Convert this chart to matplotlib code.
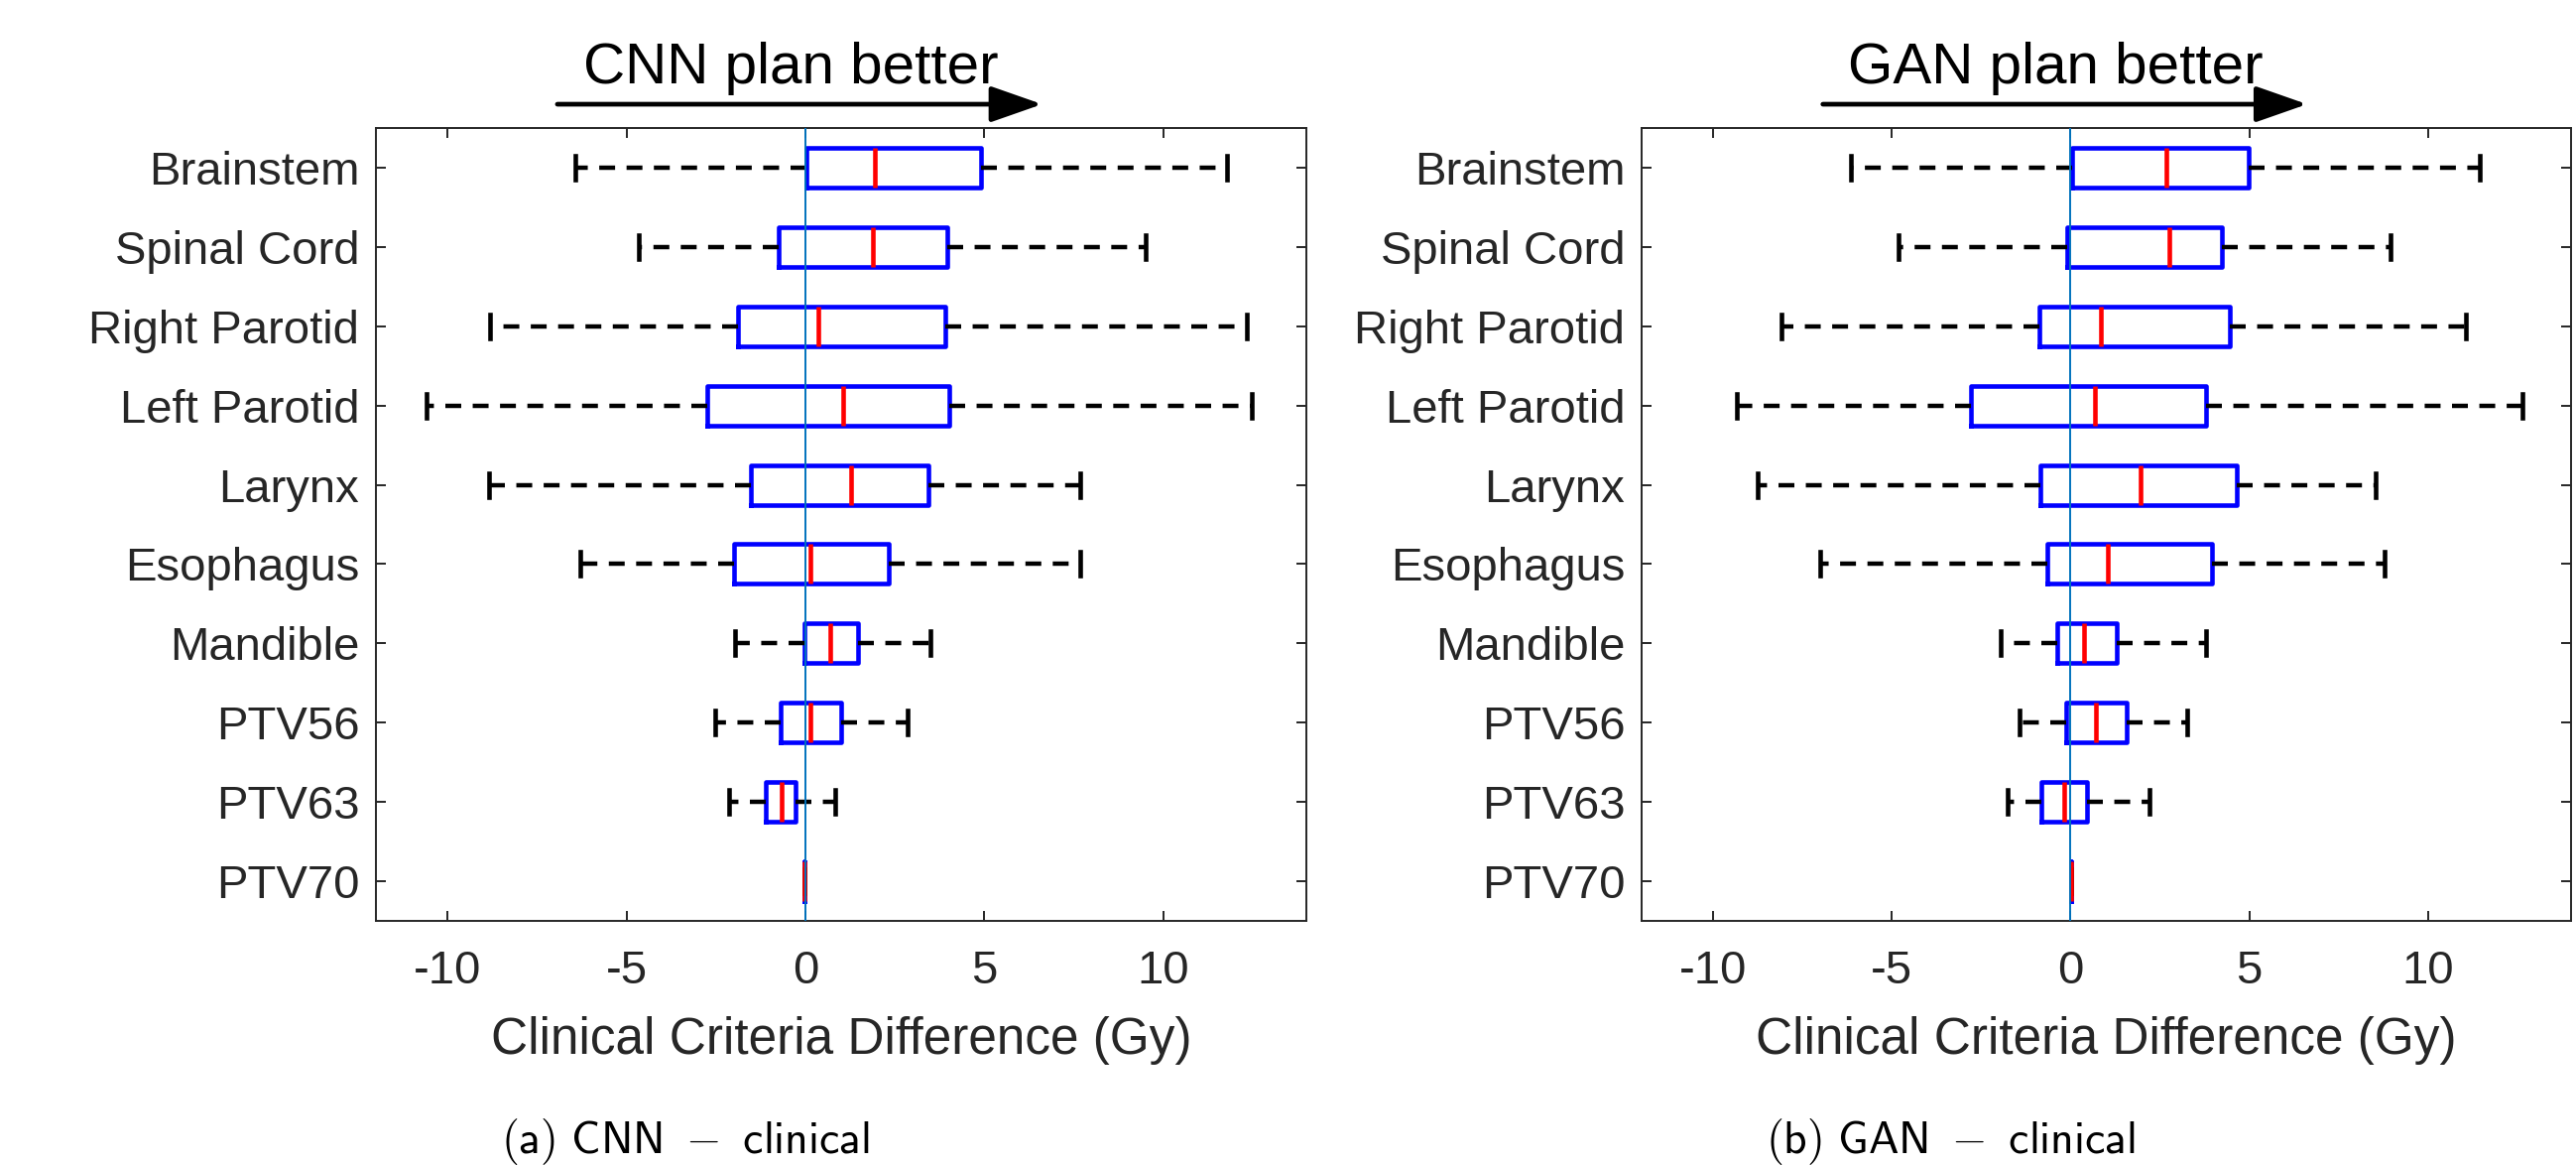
import matplotlib
matplotlib.use("Agg")
import matplotlib.pyplot as plt

plt.rcParams['font.family'] = ['Liberation Sans', 'DejaVu Sans']
plt.rcParams['mathtext.fontset'] = 'cm'
plt.rcParams['axes.unicode_minus'] = False

organs = ['Brainstem', 'Spinal Cord', 'Right Parotid', 'Left Parotid', 'Larynx',
          'Esophagus', 'Mandible', 'PTV56', 'PTV63', 'PTV70']

# CNN - clinical
cnn_lo = [-6.43, -4.65, -8.82, -10.58, -8.85, -6.29, -1.96, -2.52, -2.14, -0.02]
cnn_q1 = [0.03, -0.74, -1.89, -2.73, -1.53, -2.00, -0.03, -0.69, -1.10, -0.02]
cnn_med = [1.94, 1.89, 0.36, 1.06, 1.29, 0.15, 0.69, 0.15, -0.67, -0.02]
cnn_q3 = [4.90, 3.96, 3.91, 4.03, 3.45, 2.33, 1.46, 1.01, -0.27, -0.02]
cnn_hi = [11.77, 9.52, 12.35, 12.47, 7.67, 7.67, 3.50, 2.85, 0.82, -0.02]

# GAN - clinical
gan_lo = [-6.15, -4.80, -8.09, -9.35, -8.76, -7.01, -1.96, -1.42, -1.77, 0.02]
gan_q1 = [0.05, -0.10, -0.87, -2.79, -0.84, -0.65, -0.37, -0.12, -0.82, 0.02]
gan_med = [2.68, 2.76, 0.85, 0.69, 1.96, 1.05, 0.37, 0.72, -0.17, 0.02]
gan_q3 = [4.97, 4.23, 4.46, 3.80, 4.65, 3.96, 1.29, 1.56, 0.47, 0.02]
gan_hi = [11.45, 8.96, 11.07, 12.64, 8.53, 8.78, 3.80, 3.26, 2.22, 0.02]

xticks = [-10, -5, 0, 5, 10]
xticklabels = ['-10', '-5', '0', '5', '10']

W, H = 2597, 1174
fig = plt.figure(figsize=(W / 100, H / 100), dpi=100)

axc = '#262626'


def draw_panel(rect, lo, q1, med, q3, hi, top_text, caption, cap_x):
    ax = fig.add_axes(rect)
    stats = []
    for i in range(len(organs)):
        stats.append(dict(label=organs[i], whislo=lo[i], q1=q1[i], med=med[i],
                          q3=q3[i], whishi=hi[i], fliers=[]))
    positions = list(range(len(organs), 0, -1))
    ax.bxp(stats, positions=positions, vert=False, widths=0.5, capwidths=0.3,
           showfliers=False,
           boxprops=dict(color='#0000ff', linewidth=3.3),
           medianprops=dict(color='#ff0000', linewidth=3.3),
           whiskerprops=dict(color='k', linewidth=3.2, linestyle=(0, (3.6, 2.6))),
           capprops=dict(color='k', linewidth=3.3))
    ax.axvline(0, color='#0072BD', linewidth=1.4, zorder=5)

    ax.set_xlim(-12, 14)
    ax.set_ylim(0.5, 10.5)
    ax.set_xticks(xticks)
    ax.set_xticklabels(xticklabels)
    ax.set_yticks(positions)
    ax.set_yticklabels(organs)
    ax.tick_params(axis='both', direction='in', top=True, right=True,
                   length=7, width=1.4, color=axc, labelcolor=axc, labelsize=34)
    ax.tick_params(axis='y', pad=12)
    ax.tick_params(axis='x', pad=21)
    for s in ax.spines.values():
        s.set_color(axc)
        s.set_linewidth(1.4)

    ax.set_xlabel('Clinical Criteria Difference (Gy)', fontsize=37, color=axc, va='baseline')
    ax.xaxis.set_label_coords(0.5, -134 / 799)

    ax.text(0.4456, 1.056, top_text, transform=ax.transAxes, ha='center',
            va='baseline', fontsize=42, color='k')
    ax.annotate('', xy=(0.716, 1.030), xytext=(0.195, 1.030), xycoords='axes fraction',
                arrowprops=dict(arrowstyle='-|>,head_length=0.8,head_width=0.28',
                                mutation_scale=40, lw=3.4, color='k',
                                shrinkA=0, shrinkB=0), annotation_clip=False)

    fig.text(cap_x, 12 / H, caption, fontsize=33, ha='left', va='baseline', color='k')
    return ax


ax_bottom = (H - 928) / H
ax_h = 799 / H
draw_panel([379 / W, ax_bottom, 938 / W, ax_h], cnn_lo, cnn_q1, cnn_med, cnn_q3, cnn_hi,
           'CNN plan better', r'$\mathsf{(a)\ CNN}\ -\ \mathsf{clinical}$', 505 / W)
draw_panel([1655 / W, ax_bottom, 937 / W, ax_h], gan_lo, gan_q1, gan_med, gan_q3, gan_hi,
           'GAN plan better', r'$\mathsf{(b)\ GAN}\ -\ \mathsf{clinical}$', 1780 / W)

fig.savefig('out.png', dpi=100)
